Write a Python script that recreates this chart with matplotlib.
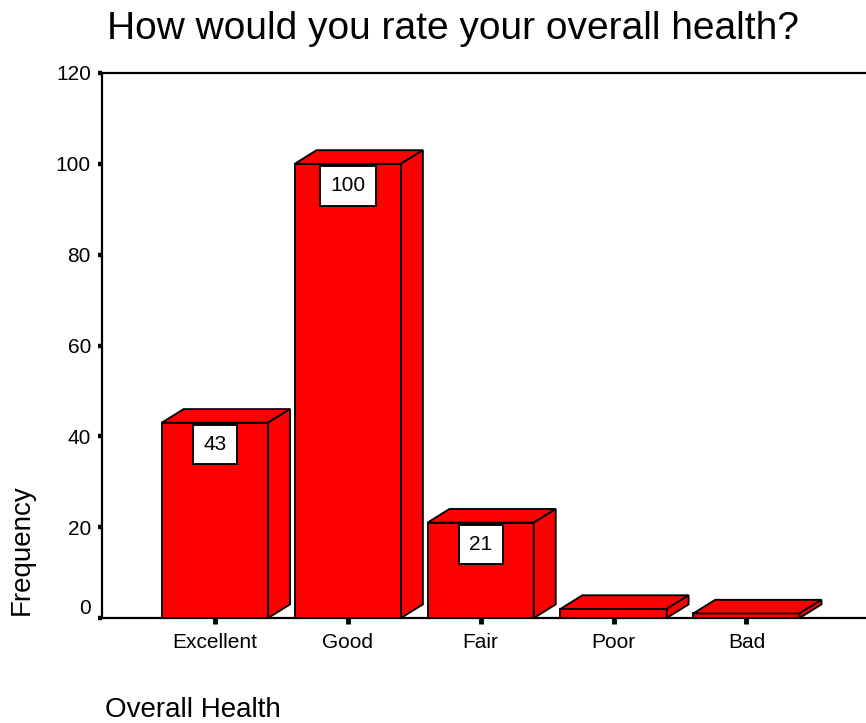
import matplotlib
matplotlib.use("Agg")
import matplotlib.pyplot as plt
from matplotlib.patches import Polygon

plt.rcParams['font.family'] = ['Liberation Sans', 'DejaVu Sans']

# datos
categorias = ["Excellent", "Good", "Fair", "Poor", "Bad"]
frecuencias = [43, 100, 21, 2, 1]
etiquetas = ["43", "100", "21", "", ""]
yticks = [0, 20, 40, 60, 80, 100, 120]

rojo = "#ff0000"
ancho = 0.8
borde = 1.35
# profundidad del efecto 3D (unidades de datos)
dx, dy = 0.165, 3.0

fig = plt.figure(figsize=(8.66, 7.23), dpi=100)
ax = fig.add_axes([102 / 866, 1 - 618 / 723, 1 - 102 / 866, (618 - 73) / 723])

x = list(range(len(categorias)))
barras = ax.bar(x, frecuencias, width=ancho, color=rojo, edgecolor="black",
                linewidth=borde, zorder=3)

# caras superior y lateral de cada barra
for b in barras:
    x0 = b.get_x()
    x1 = x0 + b.get_width()
    h = b.get_height()
    arriba = Polygon([(x0, h), (x0 + dx, h + dy), (x1 + dx, h + dy), (x1, h)],
                     closed=True, facecolor=rojo, edgecolor="black",
                     linewidth=borde, zorder=3)
    lado = Polygon([(x1, 0), (x1 + dx, dy), (x1 + dx, h + dy), (x1, h)],
                   closed=True, facecolor=rojo, edgecolor="black",
                   linewidth=borde, zorder=3)
    ax.add_patch(arriba)
    ax.add_patch(lado)

# etiquetas de valor en cajas blancas
for xi, v, txt in zip(x, frecuencias, etiquetas):
    if txt:
        ax.text(xi, v - 4.8, txt, ha="center", va="center", fontsize=15,
                zorder=5,
                bbox=dict(boxstyle="square,pad=0.5", facecolor="white",
                          edgecolor="black", linewidth=borde))

ax.set_xlim(-0.85, 4.9)
ax.set_ylim(0, 120)
ax.set_yticks(yticks)
ax.set_yticklabels([str(t) for t in yticks])
ax.set_xticks(x)
ax.set_xticklabels(categorias)

ax.tick_params(axis="y", direction="out", length=3, width=3.2, labelsize=15, pad=5)
ax.tick_params(axis="x", direction="out", length=4.5, width=3.5, labelsize=15, pad=6)

# el "0" va un poco mas arriba como en el original
ax.get_yticklabels()[0].set_verticalalignment("bottom")

for s in ["left", "top", "bottom"]:
    ax.spines[s].set_linewidth(1.6)
ax.spines["right"].set_visible(False)

fig.text(453 / 866, 1 - 39 / 723, "How would you rate your overall health?",
         ha="center", va="baseline", fontsize=28)
fig.text(22 / 866, 1 - 550 / 723, "Frequency", rotation=90,
         ha="center", va="center", fontsize=20)
fig.text(105 / 866, 1 - 717 / 723, "Overall Health", ha="left",
         va="baseline", fontsize=20)

plt.savefig("out.png", dpi=100)
